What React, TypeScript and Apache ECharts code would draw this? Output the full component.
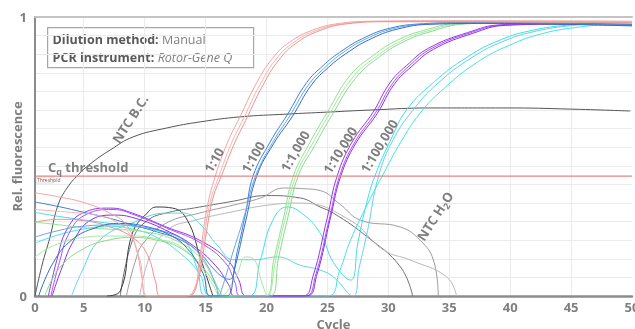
import { useEffect, useRef } from 'react';
import * as echarts from 'echarts';

type Pt = [number, number];

// Axis ticks (cycle axis starts at cycle 1; its first label reads "0")
const cycleTicks = [1, 5, 10, 15, 20, 25, 30, 35, 40, 45, 50];
const cycleGrid = [5, 10, 15, 20, 25, 30, 35, 40, 45];
const thresholdValue = 0.43;

// 1:10 dilution replicates
const dil10A: Pt[] = [[1, 0.37], [3, 0.355], [5, 0.335], [7, 0.3], [8.5, 0.255], [9.3, 0.17], [9.8, 0.06], [10.1, 0], [13.1, 0], [14, 0.015], [14.5, 0.13], [15.1, 0.31], [15.8, 0.43], [16.8, 0.55], [17.8, 0.64], [19.2, 0.765], [20.5, 0.852], [21.9, 0.91], [23.8, 0.953], [26, 0.977], [29, 0.985], [35, 0.987], [50, 0.985]];
const dil10B: Pt[] = [[1, 0.31], [2.5, 0.305], [4, 0.3], [6, 0.29], [7.5, 0.27], [8.8, 0.22], [9.6, 0.13], [10.3, 0], [13.4, 0], [14.2, 0.04], [14.8, 0.19], [15.4, 0.34], [16.1, 0.43], [17.1, 0.545], [18.1, 0.635], [19.5, 0.76], [20.8, 0.85], [22.2, 0.908], [24.1, 0.952], [26.3, 0.976], [29.5, 0.984], [50, 0.983]];
const dil10C: Pt[] = [[1, 0.265], [3, 0.275], [5, 0.27], [7, 0.25], [9, 0.21], [10.2, 0.15], [10.9, 0.05], [11.3, 0], [13.6, 0], [14.4, 0.06], [15, 0.21], [15.6, 0.35], [16.3, 0.43], [17.3, 0.54], [18.3, 0.63], [19.7, 0.755], [21, 0.845], [22.4, 0.905], [24.3, 0.95], [26.5, 0.975], [30, 0.983], [50, 0.981]];

// 1:100 dilution replicates
const dil100A: Pt[] = [[1, 0.337], [3, 0.32], [5, 0.3], [7, 0.28], [9, 0.255], [11, 0.23], [13, 0.2], [14.5, 0.155], [15.6, 0.1], [16.5, 0.065], [17, 0.06], [17.6, 0.16], [18.3, 0.3], [18.9, 0.43], [20.3, 0.552], [21.7, 0.649], [23.3, 0.765], [24.65, 0.826], [26, 0.873], [27.9, 0.923], [30.15, 0.96], [32.9, 0.976], [36, 0.98], [50, 0.973]];
const dil100B: Pt[] = [[1, 0.211], [2.5, 0.23], [4.9, 0.25], [7.7, 0.255], [10, 0.245], [12, 0.225], [13.5, 0.19], [15, 0.12], [15.9, 0.03], [16.1, 0], [16.3, 0.02], [17.2, 0.15], [18.2, 0.29], [19.1, 0.43], [20.5, 0.55], [21.9, 0.645], [23.5, 0.76], [24.9, 0.823], [26.2, 0.87], [28.1, 0.92], [30.4, 0.958], [33.2, 0.975], [37, 0.978], [50, 0.97]];
const dil100C: Pt[] = [[1.3, 0], [2.5, 0.12], [4, 0.2], [6, 0.245], [8, 0.26], [10, 0.25], [12, 0.22], [13.5, 0.17], [14.8, 0.08], [15.4, 0], [16.7, 0], [17.4, 0.1], [18.3, 0.27], [19.2, 0.43], [20.6, 0.547], [22.1, 0.642], [23.7, 0.757], [25.1, 0.82], [26.5, 0.868], [28.4, 0.918], [30.7, 0.956], [33.5, 0.974], [38, 0.977], [50, 0.968]];

// 1:1,000 dilution replicates
const dil1kA: Pt[] = [[1, 0.265], [3, 0.255], [5, 0.245], [7, 0.24], [10, 0.23], [12.5, 0.2], [14.5, 0.14], [15.8, 0.05], [16.4, 0], [19.9, 0], [20.6, 0.13], [21.4, 0.28], [22.2, 0.43], [23.5, 0.545], [25, 0.659], [26.85, 0.79], [28.75, 0.862], [30.7, 0.916], [32.9, 0.952], [35.6, 0.977], [40, 0.984], [50, 0.98]];
const dil1kB: Pt[] = [[1, 0.14], [2.5, 0.18], [4.9, 0.21], [7, 0.215], [9, 0.215], [11.5, 0.2], [13, 0.176], [14.5, 0.11], [15.6, 0.04], [16.2, 0], [17.5, 0.07], [18.3, 0.14], [19, 0.13], [19.6, 0.05], [20.1, 0], [20.8, 0.14], [21.6, 0.29], [22.4, 0.43], [23.7, 0.54], [25.2, 0.655], [27.1, 0.785], [29, 0.858], [31, 0.913], [33.2, 0.95], [36, 0.976], [41, 0.983], [50, 0.978]];
const dil1kC: Pt[] = [[1.8, 0], [3, 0.1], [5, 0.17], [7, 0.2], [9, 0.21], [11, 0.2], [13, 0.17], [14.8, 0.1], [16, 0.03], [16.6, 0], [20.3, 0], [21, 0.14], [21.8, 0.29], [22.6, 0.43], [23.9, 0.535], [25.4, 0.65], [27.3, 0.78], [29.2, 0.855], [31.2, 0.91], [33.5, 0.948], [36.3, 0.975], [42, 0.982], [50, 0.977]];

// 1:10,000 dilution replicates
const dil10kA: Pt[] = [[2.1, 0], [2.8, 0.13], [3.6, 0.237], [4.9, 0.297], [7.2, 0.315], [9, 0.297], [11.8, 0.247], [14.5, 0.2], [16.8, 0.129], [17.7, 0.06], [18.4, 0], [23, 0], [23.8, 0.068], [25, 0.283], [25.8, 0.43], [27, 0.55], [28.75, 0.659], [30.15, 0.765], [31.5, 0.826], [33.3, 0.888], [36.5, 0.944], [39.2, 0.972], [43, 0.976], [50, 0.972]];
const dil10kB: Pt[] = [[2.3, 0], [3, 0.12], [3.8, 0.225], [5.1, 0.29], [7.4, 0.31], [9.2, 0.29], [12, 0.24], [14.6, 0.19], [16.6, 0.12], [17.4, 0.05], [17.9, 0], [23.2, 0], [24, 0.07], [25.2, 0.285], [26, 0.43], [27.2, 0.548], [28.95, 0.657], [30.35, 0.762], [31.7, 0.824], [33.5, 0.886], [36.7, 0.943], [39.4, 0.971], [43, 0.975], [50, 0.971]];
const dil10kC: Pt[] = [[2.4, 0], [3.2, 0.1], [4.2, 0.2], [5.5, 0.27], [7.5, 0.29], [9.5, 0.275], [12, 0.23], [14, 0.18], [15.8, 0.11], [16.9, 0.04], [17.4, 0], [23.3, 0], [24.1, 0.07], [25.3, 0.29], [26.1, 0.43], [27.3, 0.545], [29.1, 0.655], [30.5, 0.76], [31.9, 0.822], [33.7, 0.884], [36.9, 0.941], [39.6, 0.97], [44, 0.974], [50, 0.97]];

// 1:100,000 dilution replicates
const dil100kA: Pt[] = [[1, 0.3], [3, 0.285], [6.3, 0.265], [9, 0.25], [11, 0.235], [13.2, 0.2], [14.3, 0.1], [15.1, 0], [18.5, 0], [19.5, 0.13], [20.5, 0.27], [21.7, 0.319], [22.8, 0.3], [24.4, 0.226], [25.5, 0.12], [26.9, 0.057], [27.5, 0.19], [28.2, 0.33], [28.9, 0.43], [30.2, 0.56], [31.5, 0.667], [33.7, 0.765], [36.5, 0.857], [39.2, 0.918], [41.9, 0.953], [44.7, 0.971], [47.4, 0.978], [50, 0.976]];
const dil100kB: Pt[] = [[4, 0], [4.9, 0.093], [6.3, 0.2], [9, 0.262], [11.8, 0.297], [13.2, 0.297], [14.5, 0.26], [16, 0.18], [17.3, 0.13], [19, 0.13], [20.9, 0.14], [22.8, 0.11], [24.4, 0.093], [25.5, 0.068], [27.1, 0], [27.6, 0.1], [28.3, 0.235], [29.2, 0.43], [30.4, 0.56], [32, 0.665], [34, 0.76], [36.8, 0.853], [39.5, 0.914], [42.2, 0.95], [45, 0.969], [47.6, 0.977], [50, 0.975]];
const dil100kC: Pt[] = [[1, 0.19], [3, 0.22], [5, 0.24], [7, 0.25], [9, 0.24], [11, 0.21], [13, 0.15], [14.5, 0.08], [15.5, 0], [25, 0], [26, 0.09], [26.9, 0.2], [28.3, 0.33], [29.5, 0.43], [31, 0.55], [32.6, 0.655], [34.6, 0.745], [37.3, 0.838], [40, 0.9], [42.6, 0.94], [45.3, 0.962], [48, 0.972], [50, 0.973]];

// No-template controls
const ntcBC: Pt[] = [[1, 0], [1.58, 0.111], [2.23, 0.211], [2.89, 0.326], [3.63, 0.387], [4.53, 0.434], [5.52, 0.473], [7.16, 0.523], [9.04, 0.57], [11.8, 0.602], [14.55, 0.624], [17.83, 0.642], [21.69, 0.652], [24.97, 0.659], [28.75, 0.667], [33.4, 0.674], [39.75, 0.674], [44.9, 0.67], [49.85, 0.663]];
const ntcBC2: Pt[] = [[6.9, 0], [8, 0.018], [9, 0.226], [10.2, 0.297], [11, 0.319], [12.3, 0.315], [13.5, 0.272], [14.55, 0.14], [15.6, 0]];
const ntcH2OA: Pt[] = [[8, 0], [9, 0.2], [10.2, 0.27], [12, 0.3], [14, 0.315], [17.3, 0.34], [20, 0.36], [22.8, 0.351], [24.4, 0.319], [25.5, 0.297], [28.3, 0.211], [31, 0.104], [32, 0]];
const ntcH2OB: Pt[] = [[8.5, 0], [9.2, 0.12], [9.9, 0.19], [11.8, 0.262], [14.5, 0.297], [17.3, 0.326], [19.5, 0.351], [21.4, 0.387], [22.8, 0.385], [24.4, 0.378], [26, 0.33], [27.7, 0.272], [31, 0.247], [32.6, 0.2], [33.7, 0.129], [34.1, 0]];
const ntcH2OC: Pt[] = [[9.6, 0], [10.5, 0.15], [12, 0.24], [14, 0.27], [17, 0.3], [20, 0.325], [22.8, 0.333], [26.85, 0.272], [29.6, 0.165], [31.8, 0.129], [34.8, 0.068], [35.6, 0]];

const curveGroups: { name: string; colors: string[]; curves: Pt[][] }[] = [
  { name: 'NTC H2O', colors: ['#6e6e6e', '#9c9c9c', '#b8b8b8'], curves: [ntcH2OA, ntcH2OB, ntcH2OC] },
  { name: 'NTC B.C.', colors: ['#555555', '#3c3c3c'], curves: [ntcBC, ntcBC2] },
  { name: '1:100,000', colors: ['#3fdde6', '#5fd3ea', '#43e3e3'], curves: [dil100kA, dil100kB, dil100kC] },
  { name: '1:10,000', colors: ['#9a34ee', '#a655f0', '#8e2fe6'], curves: [dil10kA, dil10kB, dil10kC] },
  { name: '1:1,000', colors: ['#8fe28f', '#a2e8a2', '#85dc8a'], curves: [dil1kA, dil1kB, dil1kC] },
  { name: '1:100', colors: ['#3b80d6', '#6aa5e6', '#2f6dc4'], curves: [dil100A, dil100B, dil100C] },
  { name: '1:10', colors: ['#f2a2a2', '#f4b3b3', '#ef9090'], curves: [dil10A, dil10B, dil10C] },
];

const FONT = '"Open Sans", "Noto Sans", sans-serif';
const GREY = '#7f7f7f';

export default function App() {
  const ref = useRef<HTMLDivElement>(null);

  useEffect(() => {
    if (!ref.current) return;
    const chart = echarts.init(ref.current, null, { renderer: 'svg' });

    const series: any[] = [];
    curveGroups.forEach((g) => {
      g.curves.forEach((c, i) => {
        series.push({
          name: g.name,
          type: 'line',
          data: c,
          showSymbol: false,
          smooth: 0.45,
          lineStyle: { width: 1, color: g.colors[i % g.colors.length] },
          emphasis: { disabled: true },
          silent: true,
        });
      });
    });
    series.push({
      name: 'Threshold',
      type: 'line',
      data: [[1, thresholdValue], [50, thresholdValue]],
      showSymbol: false,
      lineStyle: { width: 1.2, color: '#e88585' },
      silent: true,
      z: 3,
    });

    const subRich = {
      a: { fontFamily: FONT, fontWeight: 'bold', fontSize: 13, fill: GREY },
      s: { fontFamily: FONT, fontWeight: 'bold', fontSize: 9, fill: GREY, padding: [8, 0, 0, 0] },
    };

    const rotatedLabel = (text: string, x: number, y: number, deg: number, rich?: any) => ({
      type: 'text',
      x,
      y,
      rotation: (deg * Math.PI) / 180,
      style: {
        text,
        fill: GREY,
        font: `bold 13px ${FONT}`,
        align: 'center',
        verticalAlign: 'middle',
        rich,
      },
      z: 10,
    });

    chart.setOption({
      animation: false,
      grid: { left: 35, right: 3, top: 17, bottom: 33, containLabel: false, outerBoundsMode: 'none' },
      xAxis: [
        {
          type: 'value',
          min: 1,
          max: 50,
          name: 'Cycle',
          nameLocation: 'middle',
          nameGap: 21,
          nameMoveOverlap: false,
          nameTextStyle: { fontFamily: FONT, fontWeight: 'bold', fontSize: 13, color: GREY },
          axisLine: { show: true, lineStyle: { color: '#8c8c8c', width: 2.5 } },
          axisTick: { show: false, customValues: cycleGrid },
          axisLabel: {
            customValues: cycleTicks,
            formatter: (v: number) => (v === 1 ? '0' : String(v)),
            fontFamily: FONT,
            fontWeight: 'bold',
            fontSize: 13,
            color: GREY,
            margin: 4,
          },
          splitLine: { show: true, lineStyle: { color: '#ebebeb', width: 1 } },
        },
        {
          type: 'value',
          position: 'top',
          min: 1,
          max: 50,
          axisLine: { show: true, onZero: false, lineStyle: { color: '#c4c4c4', width: 2 } },
          axisTick: { show: false },
          axisLabel: { show: false },
          splitLine: { show: false },
        },
      ],
      yAxis: {
        type: 'value',
        min: 0,
        max: 1,
        interval: 1 / 15,
        name: 'Rel. fluorescence',
        nameLocation: 'middle',
        nameGap: 12,
        nameMoveOverlap: false,
        nameTextStyle: { fontFamily: FONT, fontWeight: 'bold', fontSize: 13, color: GREY },
        axisLine: { show: true, lineStyle: { color: '#8c8c8c', width: 2 } },
        axisTick: { show: false },
        axisLabel: {
          formatter: (v: number) => (Math.abs(v - 1) < 1e-6 ? '1' : v === 0 ? '0' : ''),
          fontFamily: FONT,
          fontWeight: 'bold',
          fontSize: 13,
          color: GREY,
          margin: 8,
        },
        splitLine: { show: true, lineStyle: { color: '#ebebeb', width: 1 } },
      },
      series,
      graphic: [
        {
          type: 'group',
          left: 47,
          top: 27,
          z: 20,
          children: [
            {
              type: 'rect',
              shape: { x: 0, y: 0, width: 206, height: 40 },
              style: { fill: '#ffffff', stroke: '#a6a6a6', lineWidth: 1.2 },
            },
            {
              type: 'text',
              x: 5,
              y: 3,
              style: {
                text: '{b|Dilution method:} {n|Manual}\n{b|PCR instrument:} {i|Rotor-Gene Q}',
                rich: {
                  b: { fontFamily: FONT, fontWeight: 'bold', fontSize: 12.5, fill: '#595959', lineHeight: 18 },
                  n: { fontFamily: FONT, fontSize: 12.5, fill: GREY, lineHeight: 18 },
                  i: { fontFamily: FONT, fontStyle: 'italic', fontSize: 12.5, fill: GREY, lineHeight: 18 },
                },
              },
            },
          ],
        },
        {
          type: 'text',
          x: 48,
          y: 167,
          style: {
            text: '{a|C}{s|q}{a| threshold}',
            rich: subRich,
            verticalAlign: 'middle',
          },
          z: 10,
        },
        {
          type: 'group',
          x: 36,
          y: 177,
          z: 10,
          children: [
            { type: 'rect', shape: { x: 0, y: 0, width: 18, height: 6 }, style: { fill: '#ffffff', stroke: '#c8c8c8', lineWidth: 0.6 } },
            { type: 'text', x: 1, y: 0.5, style: { text: 'Threshold', font: `5px ${FONT}`, fill: '#8a4a4a' } },
          ],
        },
        rotatedLabel('NTC B.C.', 130, 119, 57),
        rotatedLabel('1:10', 214, 160, 60),
        rotatedLabel('1:100', 253, 157, 60),
        rotatedLabel('1:1,000', 295, 151, 60),
        rotatedLabel('1:10,000', 340, 150, 58),
        rotatedLabel('1:100,000', 379, 146, 59),
        rotatedLabel('{a|NTC H}{s|2}{a|O}', 435, 216, 57, subRich),
      ],
    });

    return () => chart.dispose();
  }, []);

  return <div ref={ref} style={{ position: 'fixed', left: 0, top: 0, width: 635, height: 329 }} />;
}
